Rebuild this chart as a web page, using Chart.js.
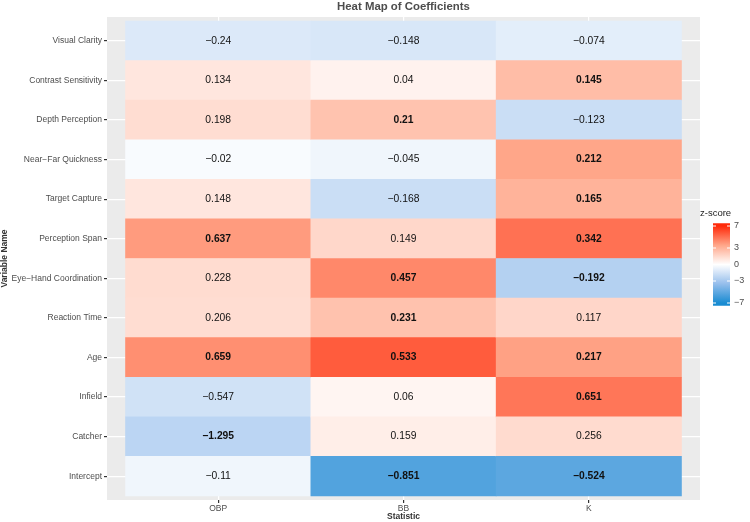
<!DOCTYPE html>
<html>
<head>
<meta charset="utf-8">
<script src="https://cdn.jsdelivr.net/npm/chart.js@4.4.0/dist/chart.umd.min.js"></script>
<style>
  body { margin: 0; background: #fff; }
  canvas { display: block; }
</style>
</head>
<body>
<canvas id="heat" width="750" height="522"></canvas>
<script>
// rows top to bottom, columns left to right
const rowNames = ['Visual Clarity', 'Contrast Sensitivity', 'Depth Perception', 'Near\u2212Far Quickness',
  'Target Capture', 'Perception Span', 'Eye\u2212Hand Coordination', 'Reaction Time', 'Age', 'Infield',
  'Catcher', 'Intercept'];
const colNames = ['OBP', 'BB', 'K'];

// coefficients shown in the cells
const obpCoef = [-0.24, 0.134, 0.198, -0.02, 0.148, 0.637, 0.228, 0.206, 0.659, -0.547, -1.295, -0.11];
const bbCoef = [-0.148, 0.04, 0.21, -0.045, -0.168, 0.149, 0.457, 0.231, 0.533, 0.06, 0.159, -0.851];
const kCoef = [-0.074, 0.145, -0.123, 0.212, 0.165, 0.342, -0.192, 0.117, 0.217, 0.651, 0.256, -0.524];

// z-scores (fill colour), estimated from the tile colours
const obpZ = [-1.17, 0.98, 1.34, -0.23, 0.98, 3.8, 1.38, 1.34, 4.15, -1.57, -2.27, -0.5];
const bbZ = [-1.3, 0.5, 2.36, -0.5, -1.77, 1.57, 4.35, 2.4, 5.6, 0.4, 0.67, -5.4];
const kZ = [-0.93, 2.6, -1.77, 3.5, 3.0, 5.0, -2.5, 1.6, 3.64, 4.85, 1.42, -5.13];

// significant cells get bold labels
const obpBold = [0, 0, 0, 0, 0, 1, 0, 0, 1, 0, 1, 0];
const bbBold = [0, 0, 1, 0, 0, 0, 1, 1, 1, 0, 0, 1];
const kBold = [0, 1, 0, 1, 1, 1, 1, 0, 1, 1, 0, 1];

const legendTicks = [7, 3, 0, -3, -7];

const coefs = [obpCoef, bbCoef, kCoef];
const zs = [obpZ, bbZ, kZ];
const bolds = [obpBold, bbBold, kBold];

function lerp(a, b, t) {
  return a.map((v, i) => Math.round(v + (b[i] - v) * t));
}
function zColor(z) {
  const white = [255, 255, 255];
  let c;
  if (z >= 0) {
    const mid = [255, 166, 137], hi = [255, 42, 10];
    c = z <= 3.5 ? lerp(white, mid, z / 3.5) : lerp(mid, hi, Math.min(1, (z - 3.5) / 3.5));
  } else {
    const mid = [150, 190, 236], lo = [25, 140, 210];
    const a = -z;
    c = a <= 3.5 ? lerp(white, mid, a / 3.5) : lerp(mid, lo, Math.min(1, (a - 3.5) / 3.5));
  }
  return 'rgb(' + c.join(',') + ')';
}
function fmt(v) {
  return String(v).replace('-', '\u2212');
}

const points = [], colors = [], labels = [], boldFlags = [];
colNames.forEach((c, ci) => {
  rowNames.forEach((r, ri) => {
    points.push({ y: ri, x: [ci - 0.5, ci + 0.5] });
    colors.push(zColor(zs[ci][ri]));
    labels.push(fmt(coefs[ci][ri]));
    boldFlags.push(bolds[ci][ri]);
  });
});

const FONT = "'Liberation Sans', Arial, Helvetica, sans-serif";
Chart.defaults.font.family = FONT;

const panelBg = {
  id: 'panelBg',
  beforeDraw(chart) {
    const a = chart.chartArea, ctx = chart.ctx;
    ctx.save();
    ctx.fillStyle = '#EBEBEB';
    ctx.fillRect(a.left, a.top, a.right - a.left, a.bottom - a.top);
    ctx.restore();
  }
};

const cellText = {
  id: 'cellText',
  afterDatasetsDraw(chart) {
    const ctx = chart.ctx;
    const meta = chart.getDatasetMeta(0);
    ctx.save();
    ctx.fillStyle = '#111';
    ctx.textAlign = 'center';
    ctx.textBaseline = 'middle';
    meta.data.forEach((el, i) => {
      ctx.font = (boldFlags[i] ? 'bold ' : '') + '10.3px ' + FONT;
      ctx.fillText(labels[i], (el.x + el.base) / 2, el.y);
    });
    ctx.restore();
  }
};

const extras = {
  id: 'extras',
  afterDraw(chart) {
    const ctx = chart.ctx, a = chart.chartArea;
    ctx.save();
    // title
    ctx.fillStyle = '#4D4D4D';
    ctx.font = 'bold 11.4px ' + FONT;
    ctx.textAlign = 'center';
    ctx.textBaseline = 'middle';
    ctx.fillText('Heat Map of Coefficients', (a.left + a.right) / 2, 7);

    // colour bar legend
    const bx = 713, bw = 17, y0 = 264.5, k = 5.5;
    const top = y0 - 7.5 * k, bot = y0 + 7.5 * k;
    const g = ctx.createLinearGradient(0, top, 0, bot);
    for (let i = 0; i <= 30; i++) {
      const z = 7.5 - i * 0.5;
      g.addColorStop(i / 30, zColor(z));
    }
    ctx.fillStyle = g;
    ctx.fillRect(bx, top, bw, bot - top);
    ctx.strokeStyle = '#fff';
    ctx.lineWidth = 1;
    ctx.fillStyle = '#4D4D4D';
    ctx.font = '9px ' + FONT;
    ctx.textAlign = 'left';
    legendTicks.forEach(t => {
      const y = y0 - t * k;
      ctx.beginPath();
      ctx.moveTo(bx, y); ctx.lineTo(bx + 3, y);
      ctx.moveTo(bx + bw - 3, y); ctx.lineTo(bx + bw, y);
      ctx.stroke();
      ctx.fillText(fmt(t), bx + bw + 4, y);
    });
    ctx.fillStyle = '#222';
    ctx.font = '9.5px ' + FONT;
    ctx.fillText('z-score', 700, top - 10);
    ctx.restore();
  }
};

new Chart(document.getElementById('heat'), {
  type: 'bar',
  data: {
    datasets: [{
      data: points,
      backgroundColor: colors,
      borderWidth: 0,
      barPercentage: 1,
      categoryPercentage: 1
    }]
  },
  options: {
    indexAxis: 'y',
    responsive: false,
    animation: false,
    layout: { padding: { top: 17, right: 50, bottom: 0, left: 0 } },
    plugins: { legend: { display: false }, tooltip: { enabled: false } },
    scales: {
      x: {
        type: 'linear',
        min: -0.6,
        max: 2.6,
        offset: false,
        afterBuildTicks: s => { s.ticks = colNames.map((_, i) => ({ value: i })); },
        afterFit: s => { s.height = 22; },
        grid: { color: '#fff', lineWidth: 1.2, tickColor: '#333', tickLength: 3, offset: false },
        border: { display: false },
        ticks: { callback: v => colNames[v], font: { size: 8.5 }, color: '#4D4D4D', padding: 1, maxRotation: 0 },
        title: { display: true, text: 'Statistic', font: { size: 8.5, weight: 'bold' }, color: '#333', padding: 0 }
      },
      y: {
        type: 'linear',
        reverse: true,
        min: -0.6,
        max: 11.6,
        offset: false,
        afterBuildTicks: s => { s.ticks = rowNames.map((_, i) => ({ value: i })); },
        afterFit: s => { s.width = 107; },
        grid: { color: '#fff', lineWidth: 1.2, tickColor: '#333', tickLength: 3, offset: false },
        border: { display: false },
        ticks: { callback: v => rowNames[v], font: { size: 8.5 }, color: '#4D4D4D', padding: 2, autoSkip: false },
        title: { display: true, text: 'Variable Name', font: { size: 8.5, weight: 'bold' }, color: '#333', padding: 0 }
      }
    }
  },
  plugins: [panelBg, cellText, extras]
});
</script>
</body>
</html>
